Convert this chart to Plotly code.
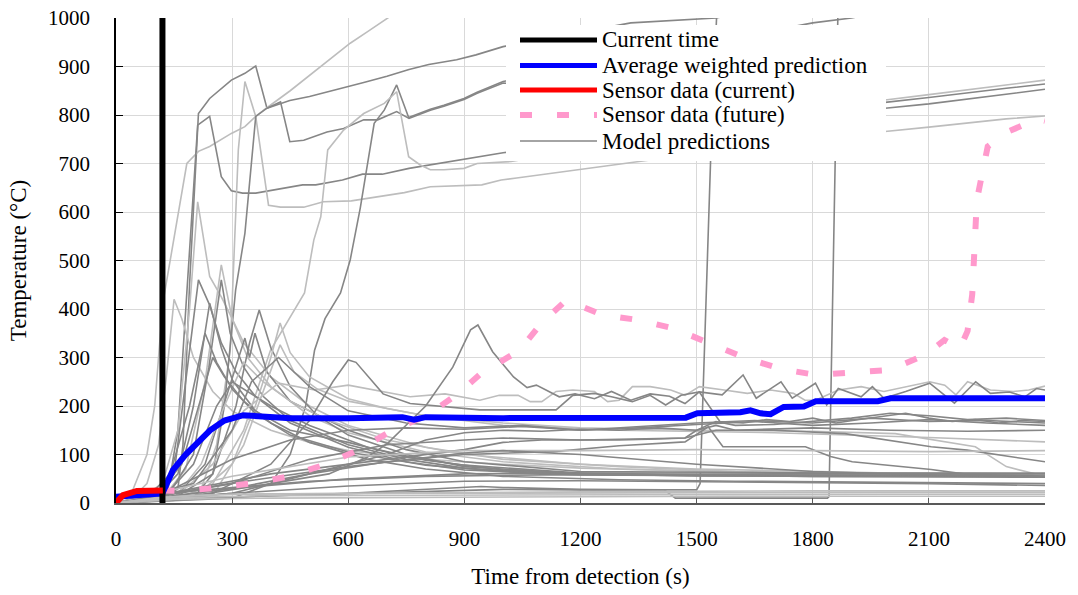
import plotly.graph_objects as go

# ------------------------------------------------------------------ data
current_time_s = [120, 120]
current_time_T = [0, 1000]

sensor_now_t = [0, 18, 54, 90, 121]
sensor_now_T = [0, 16, 25, 26, 26]

sensor_future_t = [120, 165, 240, 355, 442, 535, 626, 714, 804, 885, 943, 1043, 1098, 1163, 1257, 1351,
                   1440, 1532, 1626, 1719, 1808, 1901, 1995, 2030, 2090, 2140, 2180, 2200, 2212, 2224,
                   2252, 2300, 2381, 2400]
sensor_future_T = [26, 25, 30, 41, 54, 78, 109, 150, 181, 226, 267, 315, 370, 418, 388, 377,
                   360, 330, 299, 276, 264, 269, 274, 285, 305, 336, 318, 355, 430, 625,
                   735, 764, 792, 788]

avg_t = [0, 60, 120, 147, 180, 243, 280, 329, 398, 450, 600, 740, 770, 800, 1000, 1200, 1472, 1502,
         1613, 1639, 1665, 1691, 1725, 1777, 1808, 1968, 2001, 2400]
avg_T = [13, 16, 20, 68, 100, 150, 170, 181, 177, 175, 175, 177, 172, 177, 175, 175, 176, 185,
         187, 191, 185, 183, 198, 199, 210, 210, 216, 216]

# model predictions (time s, temperature C), shade
m01_t = [0, 120, 160, 173, 190, 213, 242, 298, 333, 361, 390, 449, 500, 545, 590, 640, 700, 757, 808, 880, 930, 1000, 1330, 1550, 1600]
m01_T = [0, 8, 30, 120, 450, 803, 834, 872, 886, 901, 814, 830, 838, 847, 857, 867, 880, 894, 904, 914, 924, 941, 990, 1000, 1008]
m02_t = [0, 40, 80, 100, 121, 150, 183, 213, 242, 298, 333, 361, 390, 450, 519, 560, 605, 650, 700, 730]
m02_T = [0, 20, 100, 200, 412, 547, 700, 725, 735, 762, 776, 797, 815, 850, 893, 920, 948, 972, 999, 1015]
m03_t = [0, 130, 160, 183, 211, 242, 272, 298, 327, 361, 413, 482, 516, 585, 637, 688, 757, 808, 895, 1000, 1500, 1987, 2100, 2200, 2300, 2400]
m03_T = [0, 8, 150, 439, 779, 797, 673, 644, 639, 639, 646, 656, 656, 666, 678, 678, 690, 697, 708, 722, 775, 826, 836, 846, 855, 864]
m04_t = [0, 150, 220, 260, 295, 316, 333, 361, 394, 425, 485, 536, 608, 676, 745, 812, 945, 995, 1035, 1500, 1987, 2100, 2200, 2300, 2400]
m04_T = [0, 5, 30, 120, 315, 728, 869, 797, 614, 610, 610, 621, 623, 631, 640, 652, 656, 666, 670, 720, 766, 775, 783, 792, 798]
m05_t = [0, 200, 250, 280, 309, 333, 361, 390, 425, 449, 485, 545, 588, 640, 676, 725, 757, 812, 847, 899, 933, 1000, 1500, 1987, 2100, 2200, 2300, 2400]
m05_T = [0, 10, 60, 200, 439, 556, 797, 814, 827, 745, 748, 765, 772, 790, 790, 807, 793, 810, 818, 832, 845, 866, 840, 814, 823, 833, 843, 853]
m06_t = [0, 300, 400, 450, 490, 513, 540, 580, 605, 631, 667, 693, 725, 756, 812, 847, 899, 933, 1000, 1400, 1800, 1900, 1950]
m06_T = [0, 10, 40, 100, 200, 315, 380, 433, 501, 608, 783, 810, 862, 795, 812, 820, 834, 847, 869, 930, 990, 1000, 1008]
m07_t = [0, 200, 250, 330, 399, 487, 511, 529, 547, 588, 640, 693, 725, 756, 786, 812, 847, 899, 933, 1021, 1500, 1987, 2100, 2200, 2300, 2400]
m07_T = [0, 8, 40, 150, 315, 433, 542, 590, 728, 769, 803, 824, 848, 714, 697, 687, 687, 690, 700, 704, 770, 831, 842, 852, 862, 872]
m08_t = [0, 120, 300, 600, 943, 1000, 1200, 1416, 1500, 1509, 1536, 1552]
m08_T = [0, 5, 12, 20, 34, 32, 28, 27, 27, 40, 704, 1010]
m09_t = [0, 150, 400, 700, 1000, 1200, 1416, 1445, 1838, 1842, 1857, 1865]
m09_T = [0, 8, 15, 22, 28, 27, 27, 10, 10, 13, 704, 1010]
m10_t = [0, 40, 80, 110, 130, 150, 170, 200, 250, 300, 400, 500, 600, 800, 1000, 1200, 1500, 1800, 2100, 2400]
m10_T = [0, 8, 40, 120, 260, 420, 380, 300, 230, 190, 150, 125, 108, 90, 80, 72, 66, 62, 60, 60]
m11_t = [0, 60, 120, 160, 190, 211, 242, 272, 294, 330, 400, 500, 600, 800, 1000, 1300, 1600, 2000, 2400]
m11_T = [0, 10, 40, 150, 400, 621, 467, 425, 390, 330, 260, 200, 160, 115, 90, 75, 65, 60, 58]
m12_t = [0, 100, 150, 180, 213, 242, 272, 310, 360, 450, 600, 750, 900, 1200, 1500, 1800, 2100, 2400]
m12_T = [0, 10, 60, 250, 460, 408, 330, 270, 220, 165, 115, 85, 68, 58, 56, 55, 55, 55]
m13_t = [0, 120, 180, 230, 272, 300, 340, 400, 500, 600, 800, 1000, 1300, 1700, 2000, 2400]
m13_T = [0, 10, 70, 250, 491, 380, 300, 240, 180, 145, 105, 85, 70, 62, 60, 58]
m14_t = [0, 130, 200, 240, 272, 295, 330, 380, 450, 600, 750, 900, 1100, 1400, 1800, 2400]
m14_T = [0, 10, 100, 280, 460, 350, 280, 220, 170, 120, 90, 72, 62, 58, 57, 56]
m15_t = [0, 100, 160, 200, 242, 272, 301, 360, 450, 600, 750, 900, 1200, 1500, 2400]
m15_T = [0, 10, 60, 200, 412, 320, 253, 190, 150, 125, 95, 78, 62, 58, 57]
m16_t = [0, 150, 250, 310, 345, 370, 400, 450, 520, 600, 750, 900, 1200, 1500, 2400]
m16_T = [0, 10, 60, 200, 330, 398, 320, 240, 180, 140, 100, 75, 60, 56, 55]
m17_t = [0, 150, 230, 290, 333, 345, 359, 390, 450, 600, 750, 900, 1200, 2400]
m17_T = [0, 10, 80, 230, 340, 300, 350, 270, 210, 150, 110, 85, 65, 60]
m18_t = [0, 200, 300, 360, 400, 424, 450, 500, 600, 700, 800, 1000, 1300, 1700, 2100, 2400]
m18_T = [0, 10, 80, 200, 300, 371, 310, 260, 215, 195, 180, 160, 150, 145, 135, 126]
m19_t = [0, 250, 330, 390, 424, 460, 520, 600, 800, 1000, 1200, 1500, 1800, 2013, 2220, 2300, 2400]
m19_T = [0, 15, 120, 250, 326, 270, 235, 210, 180, 165, 155, 150, 148, 143, 116, 75, 55]
m20_t = [0, 150, 220, 280, 330, 380, 450, 550, 700, 900, 1200, 1500, 2000, 2400]
m20_T = [0, 10, 80, 200, 290, 250, 210, 170, 130, 100, 80, 70, 62, 60]
m21_t = [0, 100, 170, 220, 250, 280, 330, 400, 500, 650, 800, 1000, 1300, 1600, 2000, 2400]
m21_T = [0, 10, 80, 220, 300, 260, 210, 165, 125, 90, 70, 55, 48, 45, 42, 40]
m22_t = [0, 80, 140, 190, 230, 260, 300, 360, 450, 600, 800, 1000, 1300, 2400]
m22_T = [0, 10, 60, 200, 350, 290, 235, 185, 140, 105, 78, 65, 58, 55]
m23_t = [0, 120, 200, 260, 300, 340, 400, 500, 650, 800, 1000, 1300, 1800, 2400]
m23_T = [0, 10, 80, 200, 250, 230, 200, 160, 115, 88, 68, 58, 55, 53]
m24_t = [0, 150, 250, 330, 420, 513, 600, 690, 760, 850, 940, 990, 1039, 1070, 1100, 1137, 1180, 1236, 1270, 1300,
         1334, 1380, 1433, 1470, 1507, 1571, 1631, 1691, 1750, 1780, 1807, 1866, 1925, 1984, 2043, 2102, 2141, 2170,
         2200, 2259, 2318, 2358, 2400]
m24_T = [0, 10, 80, 190, 247, 233, 243, 229, 219, 225, 212, 222, 222, 209, 209, 230, 233, 230, 209, 212,
         240, 240, 233, 222, 240, 233, 226, 233, 226, 212, 212, 233, 240, 230, 240, 250, 243, 223,
         250, 233, 230, 233, 241]
m25_t = [0, 200, 400, 550, 650, 703, 800, 870, 916, 935, 973, 1027, 1062, 1086, 1145, 1186, 1236, 1280, 1330, 1380,
         1430, 1470, 1507, 1566, 1620, 1654, 1718, 1747, 1807, 1836, 1866, 1925, 1954, 1984, 2040, 2102, 2166, 2221,
         2259, 2308, 2348, 2378, 2400]
m25_T = [0, 15, 40, 60, 95, 124, 200, 280, 357, 367, 312, 260, 238, 243, 219, 225, 215, 230, 212, 225,
         220, 205, 229, 223, 264, 216, 250, 216, 247, 202, 236, 219, 240, 216, 230, 247, 206, 250,
         226, 229, 219, 236, 233]
m26_t = [0, 250, 400, 500, 560, 600, 620, 690, 760, 850, 940, 1000, 1040, 1137, 1180, 1236, 1280, 1334, 1380, 1420,
         1460, 1507, 1560, 1620, 1680, 1740, 1800, 1860, 1920, 1980, 2040, 2100, 2160, 2220, 2280, 2340, 2400]
m26_T = [0, 20, 80, 170, 250, 295, 290, 225, 205, 198, 192, 192, 192, 192, 222, 226, 219, 209, 222, 202,
         222, 229, 168, 165, 172, 168, 175, 165, 172, 178, 185, 175, 168, 172, 165, 170, 168]
m27_t = [0, 150, 300, 450, 600, 750, 900, 1050, 1200, 1350, 1500, 1650, 1800, 1950, 2100, 2250, 2400]
m27_T = [0, 30, 90, 130, 150, 155, 152, 158, 150, 155, 162, 168, 160, 165, 172, 165, 160]
m28_t = [0, 200, 300, 350, 420, 500, 600, 750, 900, 1050, 1200, 1350, 1500, 1650, 1800, 1950, 2100, 2250, 2400]
m28_T = [0, 40, 150, 250, 300, 240, 190, 165, 155, 160, 150, 158, 165, 170, 165, 175, 168, 170, 165]
m29_t = [0, 300, 500, 700, 800, 900, 1000, 1100, 1200, 1300, 1400, 1500, 1550, 1600, 1700, 1800, 1900, 2000, 2100, 2200, 2300, 2400]
m29_T = [0, 20, 60, 100, 130, 145, 150, 148, 152, 150, 155, 150, 168, 160, 162, 168, 175, 185, 180, 172, 175, 170]
m30_t = [0, 400, 700, 900, 1000, 1100, 1200, 1300, 1400, 1470, 1500, 1550, 1600, 1800, 2000, 2200, 2400]
m30_T = [0, 60, 90, 110, 125, 130, 130, 130, 132, 134, 150, 160, 150, 155, 150, 148, 150]
m31_t = [0, 300, 500, 700, 900, 1130, 1300, 1470, 1530, 1568, 1781, 1846, 1902, 2106, 2199, 2400]
m31_T = [0, 30, 60, 85, 100, 106, 118, 126, 157, 116, 116, 96, 85, 69, 59, 55]
m32_t = [0, 300, 500, 700, 900, 1000, 1200, 1470, 1550, 1700, 1883, 2106, 2199, 2400]
m32_T = [0, 40, 90, 120, 130, 134, 130, 134, 150, 150, 143, 116, 109, 85]
m33_t = [0, 300, 600, 900, 1200, 1500, 1800, 2100, 2400]
m33_T = [0, 55, 95, 108, 108, 110, 108, 106, 108]
m34_t = [0, 300, 600, 900, 1000, 1200, 1500, 1800, 2100, 2400]
m34_T = [0, 41, 75, 103, 108, 100, 80, 65, 58, 55]
m35_t = [0, 300, 600, 900, 1200, 1500, 1800, 2100, 2400]
m35_T = [0, 20, 35, 45, 46, 44, 42, 40, 36]
m36_t = [0, 200, 500, 800, 1100, 1400, 1700, 2000, 2400]
m36_T = [0, 25, 45, 55, 58, 58, 60, 60, 60]
m37_t = [0, 300, 600, 900, 1200, 1500, 1800, 2100, 2400]
m37_T = [0, 30, 50, 60, 62, 62, 61, 62, 62]
m38_t = [0, 100, 200, 400, 800, 1200, 1600, 2000, 2400]
m38_T = [0, 8, 12, 15, 16, 17, 17, 18, 18]
m39_t = [0, 100, 200, 400, 800, 1200, 1600, 2000, 2400]
m39_T = [0, 10, 16, 19, 20, 21, 21, 22, 22]
m40_t = [0, 120, 300, 600, 1000, 1400, 1800, 2200, 2400]
m40_T = [0, 12, 18, 20, 22, 24, 25, 25, 25]
m41_t = [0, 150, 400, 800, 1200, 1600, 2000, 2400]
m41_T = [0, 8, 10, 12, 13, 14, 14, 14]

model_shades = ["dark", "light", "dark", "light", "dark", "dark", "light", "dark", "dark", "light",
                "light", "dark", "light", "dark", "dark", "dark", "dark", "light", "light", "light",
                "dark", "dark", "dark", "light", "dark", "dark", "dark", "dark", "dark", "dark",
                "dark", "dark", "light", "dark", "dark", "dark", "dark", "light", "light", "light", "light"]

model_series = [
    (m01_t, m01_T), (m02_t, m02_T), (m03_t, m03_T), (m04_t, m04_T), (m05_t, m05_T), (m06_t, m06_T),
    (m07_t, m07_T), (m08_t, m08_T), (m09_t, m09_T), (m10_t, m10_T), (m11_t, m11_T), (m12_t, m12_T),
    (m13_t, m13_T), (m14_t, m14_T), (m15_t, m15_T), (m16_t, m16_T), (m17_t, m17_T), (m18_t, m18_T),
    (m19_t, m19_T), (m20_t, m20_T), (m21_t, m21_T), (m22_t, m22_T), (m23_t, m23_T), (m24_t, m24_T),
    (m25_t, m25_T), (m26_t, m26_T), (m27_t, m27_T), (m28_t, m28_T), (m29_t, m29_T), (m30_t, m30_T),
    (m31_t, m31_T), (m32_t, m32_T), (m33_t, m33_T), (m34_t, m34_T), (m35_t, m35_T), (m36_t, m36_T),
    (m37_t, m37_T), (m38_t, m38_T), (m39_t, m39_T), (m40_t, m40_T), (m41_t, m41_T),
]

x_ticks = [0, 300, 600, 900, 1200, 1500, 1800, 2100, 2400]
y_ticks = [0, 100, 200, 300, 400, 500, 600, 700, 800, 900, 1000]

legend_labels = ["Current time", "Average weighted prediction", "Sensor data (current)",
                 "Sensor data (future)", "Model predictions"]

# ------------------------------------------------------------------ style
FONT = "Liberation Serif, Times New Roman, serif"
SHADE = {"dark": "#868686", "light": "#bdbdbd"}
PINK = "#ff99cc"

fig = go.Figure()

for (tt, TT), shade in zip(model_series, model_shades):
    fig.add_trace(go.Scatter(x=tt, y=TT, mode="lines",
                             line=dict(color=SHADE[shade], width=1.6),
                             showlegend=False, hoverinfo="skip"))

fig.add_trace(go.Scatter(x=sensor_future_t, y=sensor_future_T, mode="lines",
                         line=dict(color=PINK, width=6, dash="12px,25px"), showlegend=False))
fig.add_trace(go.Scatter(x=avg_t, y=avg_T, mode="lines",
                         line=dict(color="#0000ff", width=6), showlegend=False))
fig.add_trace(go.Scatter(x=current_time_s, y=current_time_T, mode="lines",
                         line=dict(color="#000000", width=6), showlegend=False))
fig.add_trace(go.Scatter(x=sensor_now_t, y=sensor_now_T, mode="lines",
                         line=dict(color="#ff0000", width=6), showlegend=False))

# ------------------------------------------------------------------ manual legend
L = 116.0
W = 1045.0 - 116.0
B = 503.0
H = 485.0


def px_x(p):
    return (p - L) / W


def px_y(p):
    return (B - p) / H


shapes = [dict(type="rect", xref="paper", yref="paper", layer="above",
               x0=px_x(506), x1=px_x(886), y0=px_y(161), y1=px_y(25),
               fillcolor="white", line=dict(width=0))]
row_y = [40, 65.5, 90, 115, 141]
sample_styles = [dict(color="#000000", width=5), dict(color="#0000ff", width=5),
                 dict(color="#ff0000", width=5), dict(color=PINK, width=6, dash="12px,25px"),
                 dict(color="#868686", width=1.6)]
annotations = []
for ry, st, lab in zip(row_y, sample_styles, legend_labels):
    shapes.append(dict(type="line", xref="paper", yref="paper", layer="above",
                       x0=px_x(520), x1=px_x(597), y0=px_y(ry), y1=px_y(ry), line=st))
    annotations.append(dict(xref="paper", yref="paper", x=px_x(600), y=px_y(ry),
                            xanchor="left", yanchor="middle", showarrow=False, text=lab,
                            font=dict(family=FONT, size=23, color="black")))

axis_common = dict(showgrid=True, gridcolor="#d9d9d9", gridwidth=1, zeroline=False,
                   showline=True, linewidth=1.5, ticks="inside",
                   tickfont=dict(family=FONT, size=21, color="black"))

fig.update_layout(
    width=1078, height=595,
    margin=dict(l=116, r=33, t=18, b=92, autoexpand=False),
    paper_bgcolor="white", plot_bgcolor="white",
    font=dict(family=FONT, size=21, color="black"),
    showlegend=False,
    shapes=shapes, annotations=annotations,
    xaxis=dict(range=[0, 2400], tickvals=x_ticks, ticktext=[str(v) for v in x_ticks],
               linecolor="#595959", tickcolor="#595959", ticklen=5, ticklabelstandoff=16,
               title=dict(text="Time from detection (s)", font=dict(family=FONT, size=23), standoff=18),
               **axis_common),
    yaxis=dict(range=[0, 1000], tickvals=y_ticks, ticktext=[str(v) for v in y_ticks],
               linecolor="#000000", tickcolor="#000000", ticklen=7, ticklabelstandoff=20,
               title=dict(text="Temperature (°C)", font=dict(family=FONT, size=23), standoff=15),
               **axis_common),
)

fig.write_html("out.html")
